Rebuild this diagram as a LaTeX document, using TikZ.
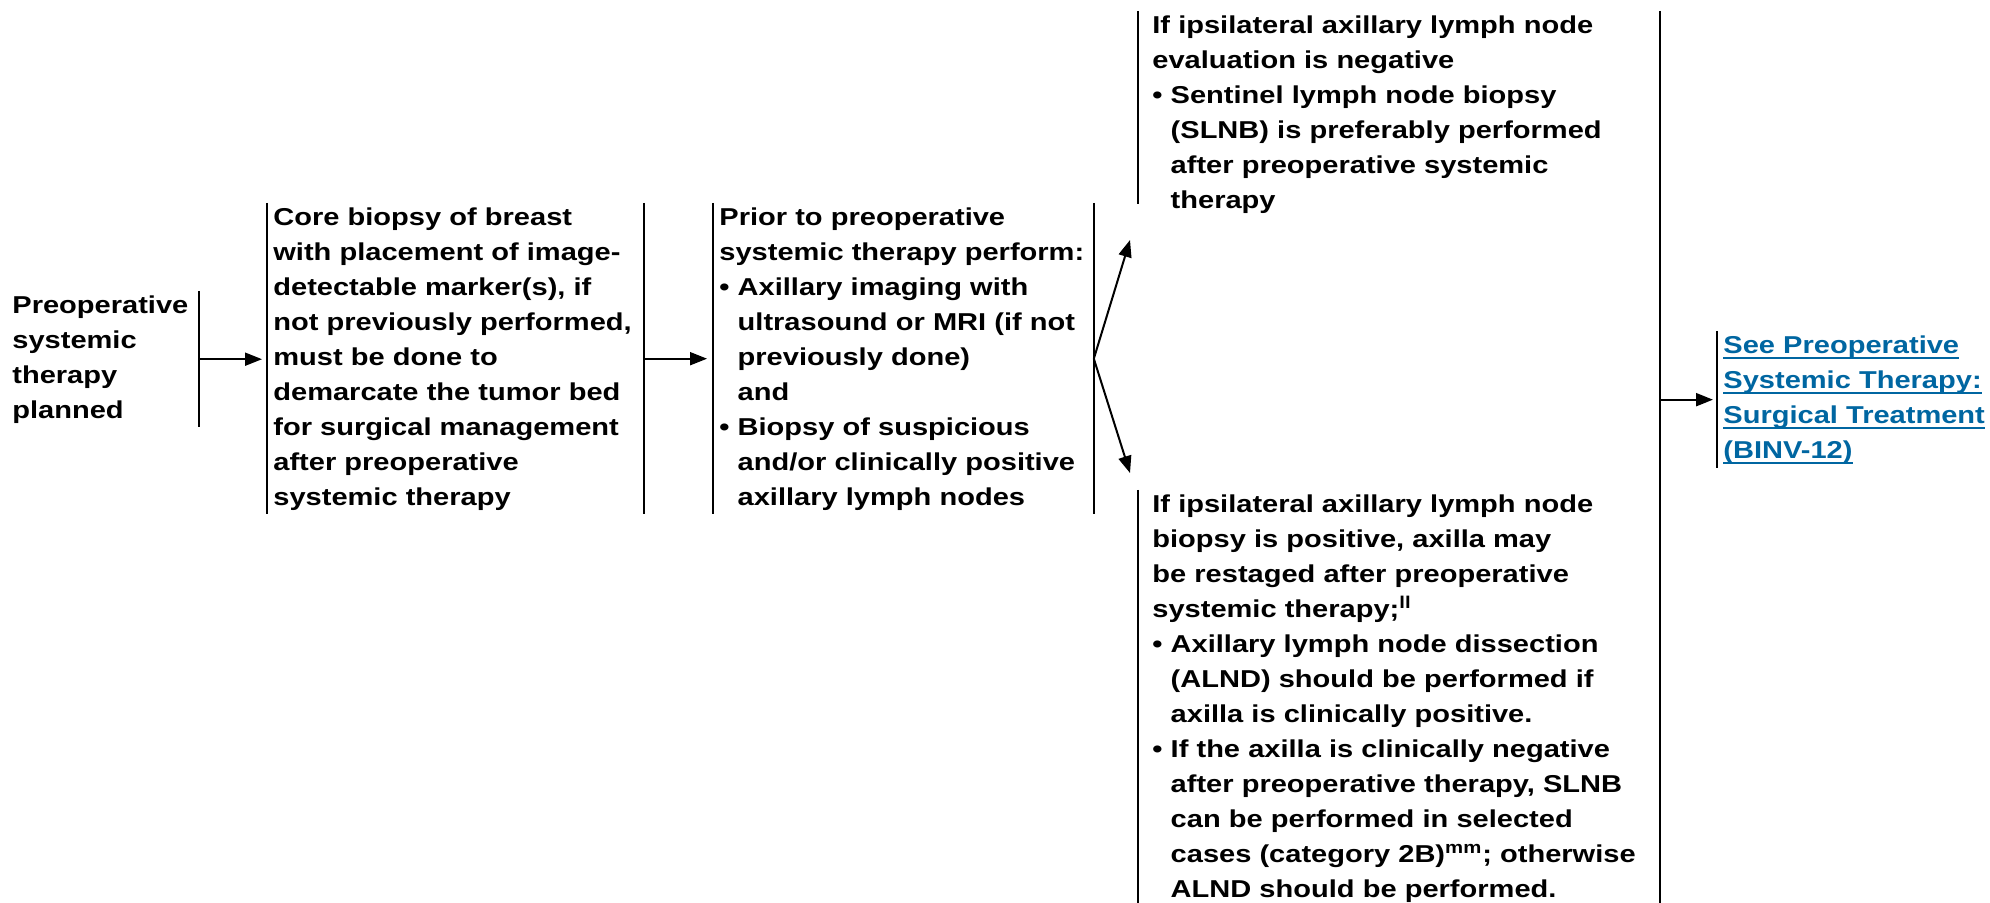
\documentclass[tikz,border=0pt]{standalone}
\usepackage{fontspec}
\setmainfont{Liberation Sans}[FakeStretch=1.19]
\usetikzlibrary{arrows.meta}
\hyphenpenalty=10000
\newcommand{\lnk}[1]{\leavevmode\setbox0\hbox{#1}\rlap{\vrule width\wd0 height -2pt depth 3pt}\box0}
\newcommand{\bul}{\textbullet\ }
\newcommand{\hang}{\phantom{\textbullet\ }}
\begin{document}
\begin{tikzpicture}[x=0.5pt,y=-0.5pt,
    stepbox/.style={anchor=base west,inner xsep=3pt,inner ysep=2pt,align=left,
      font=\fontsize{12.2pt}{17.5pt}\selectfont\bfseries},
    bar/.style={line width=1.3pt},
    flow/.style={line width=1pt,-{Triangle[length=8.5pt,width=6.5pt]}}]
    \definecolor{nccn_link}{RGB}{0,102,161}
    \useasboundingbox (0,0) rectangle (1990,902);
    % steps
    \node[stepbox,text width=90pt] (plan) at (6,313) {Preoperative\\systemic\\therapy\\planned};
    \node[stepbox,text width=182pt] (core) at (267,225) {Core biopsy of breast\\with placement of image-\\detectable marker(s), if\\not previously performed,\\must be done to\\demarcate the tumor bed\\for surgical management\\after preoperative\\systemic therapy};
    \node[stepbox,text width=184pt] (prior) at (713,225) {Prior to preoperative\\systemic therapy perform:\\\bul Axillary imaging with\\\hang ultrasound or MRI (if not\\\hang previously done)\\\hang and\\\bul Biopsy of suspicious\\\hang and/or clinically positive\\\hang axillary lymph nodes};
    \node[stepbox,inner xsep=7pt,text width=246.5pt] (neg) at (1138,33) {If ipsilateral axillary lymph node\\evaluation is negative\\\bul Sentinel lymph node biopsy\\\hang (SLNB) is preferably performed\\\hang after preoperative systemic\\\hang therapy};
    \node[stepbox,inner xsep=7pt,text width=246.5pt] (pos) at (1138,512) {If ipsilateral axillary lymph node\\biopsy is positive, axilla may\\be restaged after preoperative\\systemic therapy;\textsuperscript{ll}\\\bul Axillary lymph node dissection\\\hang (ALND) should be performed if\\\hang axilla is clinically positive.\\\bul If the axilla is clinically negative\\\hang after preoperative therapy, SLNB\\\hang can be performed in selected\\\hang cases (category 2B)\textsuperscript{mm}; otherwise\\\hang ALND should be performed.};
    \node[stepbox,text width=150pt,text=nccn_link] (link) at (1717,353) {\lnk{See Preoperative}\\\lnk{Systemic Therapy:}\\\lnk{Surgical Treatment}\\\lnk{(BINV-12)}};
    % bars
    \draw[bar] (plan.north east) -- (plan.south east);
    \draw[bar] (core.north west) -- (core.south west);
    \draw[bar] (core.north east) -- (core.south east);
    \draw[bar] (prior.north west) -- (prior.south west);
    \draw[bar] (prior.north east) -- (prior.south east);
    \draw[bar] (neg.north west) -- ([yshift=6.5pt]neg.south west);
    \draw[bar] (pos.north west) -- (pos.south west);
    \draw[bar] (neg.north east) -- (pos.south east);
    \draw[bar] (link.north west) -- (link.south west);
    % arrows
    \coordinate (upend) at (1130,240);
    \coordinate (downend) at (1130,473);
    \draw[flow,shorten >=2.5pt] (plan.east) -- (plan.east -| core.west);
    \draw[flow,shorten >=3pt] (core.east) -- (core.east -| prior.west);
    \draw[flow] (prior.east) -- (upend);
    \draw[flow] (prior.east) -- (downend);
    \draw[flow,shorten >=2pt] (link.west -| neg.east) -- (link.west);
\end{tikzpicture}
\end{document}
